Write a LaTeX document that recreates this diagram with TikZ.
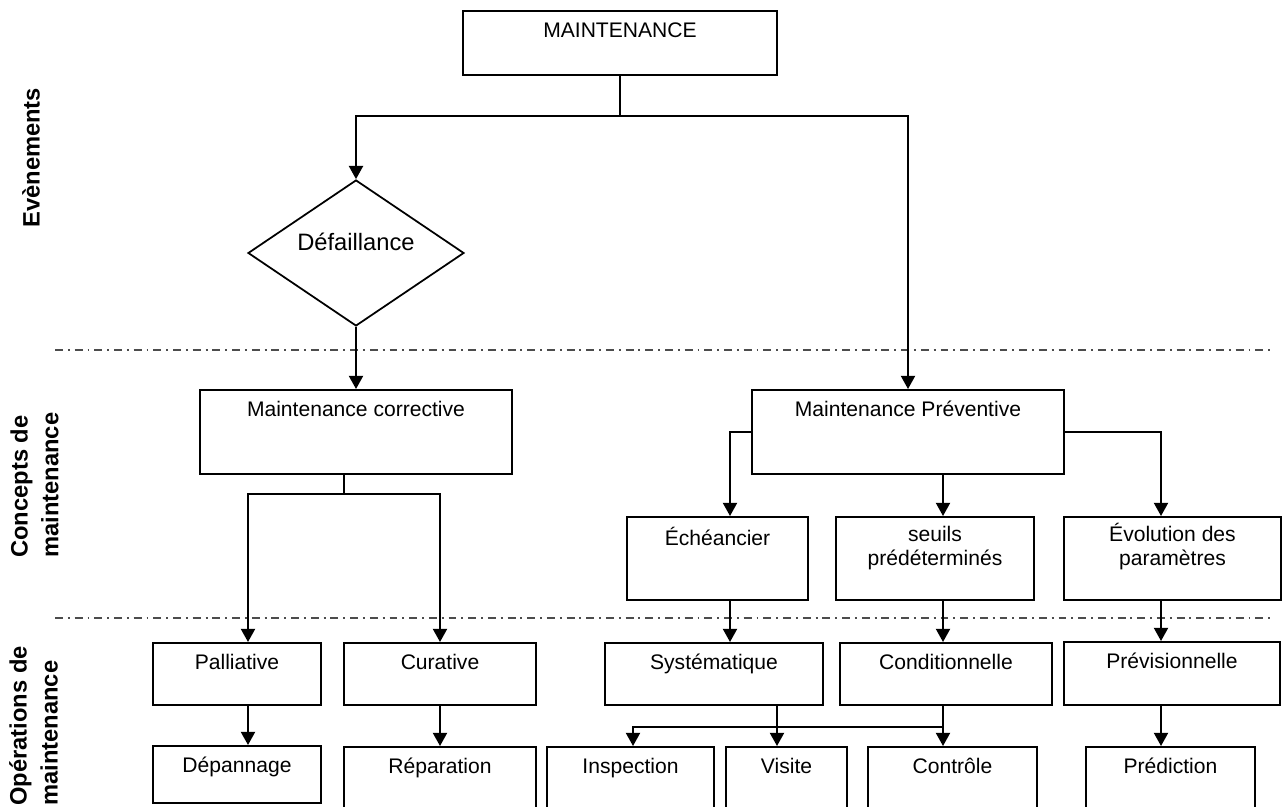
\documentclass[tikz,border=0pt]{standalone}
\usepackage{fontspec}
\setmainfont{Liberation Sans}
\usetikzlibrary{arrows.meta}
\usetikzlibrary{shapes.geometric}

\begin{document}
\begin{tikzpicture}[x=0.02cm, y=-0.02cm,
  boite/.style={draw, line width=0.04cm, inner sep=0pt},
  txt/.style={font=\fontsize{12}{13.5}\selectfont, align=center, anchor=north, inner sep=0pt, yshift=-5.9pt},
  fleche/.style={line width=0.04cm, -{Triangle[length=7.5pt, width=8pt]}},
  trait/.style={line width=0.04cm},
  limite/.style={black!70, line width=0.04cm, dash pattern=on 4.5pt off 2.8pt on 1.1pt off 2.8pt},
  titre/.style={font=\fontsize{13.5}{17.6}\selectfont\bfseries, rotate=90, anchor=north west, align=left, inner sep=0pt}]
\useasboundingbox (0,0) rectangle (1285,807);
\clip (0,0) rectangle (1285,807);

\draw[limite] (55,350) -- (1275,350);
\draw[limite] (55,618) -- (1275,618);

\node[titre] (evt) at (22,228) {Evènements};
\node[titre] (cpt) at (10,558) {Concepts de\\maintenance};
\node[titre] (ops) at (9,806) {Opérations de\\maintenance};

\node[boite, minimum width=6.28cm, minimum height=1.28cm, label={[txt]north:{\strut MAINTENANCE}}] (maint) at (620,43) {};
\node[draw, diamond, line width=1pt, inner sep=0pt, minimum width=4.32cm, minimum height=2.92cm] (def) at (356,253) {};
\node[font=\fontsize{13.5}{16}\selectfont, inner sep=0pt] (tdef) at (356,242) {Défaillance};

\node[boite, minimum width=6.24cm, minimum height=1.68cm, label={[txt]north:{\strut Maintenance corrective}}] (corr) at (356,432) {};
\node[boite, minimum width=6.24cm, minimum height=1.68cm, label={[txt]north:{\strut Maintenance Préventive}}] (prev) at (908,432) {};

\node[boite, minimum width=3.62cm, minimum height=1.66cm, label={[txt]north:{\strut Échéancier}}] (eche) at (717.5,558.5) {};
\node[boite, minimum width=3.96cm, minimum height=1.66cm, label={[txt, yshift=1pt]north:{\strut seuils\\prédéterminés}}] (seuils) at (935,558.5) {};
\node[boite, minimum width=4.34cm, minimum height=1.66cm, label={[txt, yshift=2pt]north:{\strut Évolution des\\paramètres}}] (evol) at (1172.5,558.5) {};

\node[boite, minimum width=3.36cm, minimum height=1.24cm, label={[txt]north:{\strut Palliative}}] (pall) at (237,674) {};
\node[boite, minimum width=3.86cm, minimum height=1.24cm, label={[txt]north:{\strut Curative}}] (cura) at (440,674) {};
\node[boite, minimum width=4.36cm, minimum height=1.24cm, label={[txt]north:{\strut Systématique}}] (syst) at (714,674) {};
\node[boite, minimum width=4.24cm, minimum height=1.24cm, label={[txt]north:{\strut Conditionnelle}}] (cond) at (946,674) {};
\node[boite, minimum width=4.32cm, minimum height=1.26cm, label={[txt]north:{\strut Prévisionnelle}}] (prevs) at (1172,673.5) {};

\node[boite, minimum width=3.36cm, minimum height=1.14cm, label={[txt]north:{\strut Dépannage}}] (depa) at (237,774.5) {};
\node[boite, minimum width=3.86cm, minimum height=1.72cm, label={[txt]north:{\strut Réparation}}] (repa) at (440,790) {};
\node[boite, minimum width=3.34cm, minimum height=1.72cm, label={[txt]north:{\strut Inspection}}] (insp) at (630.5,790) {};
\node[boite, minimum width=2.42cm, minimum height=1.72cm, label={[txt]north:{\strut Visite}}] (visi) at (786.5,790) {};
\node[boite, minimum width=3.38cm, minimum height=1.72cm, label={[txt]north:{\strut Contrôle}}] (ctrl) at (952.5,790) {};
\node[boite, minimum width=3.38cm, minimum height=1.72cm, label={[txt]north:{\strut Prédiction}}] (pred) at (1170.5,790) {};

\coordinate (hub) at (620,116);
\coordinate (cbr) at (344,494);
\coordinate (jn) at (943,727);
\coordinate (kA) at (248,0);
\coordinate (kC) at (730,0);
\coordinate (kD) at (777,0);
\coordinate (kF) at (943,0);
\coordinate (kG) at (1161,0);
\coordinate (kI) at (633,0);

\draw[trait] (maint.south) -- (hub);
\draw[fleche] (hub) -| (def.north);
\draw[fleche] (hub) -| (prev.north);
\draw[fleche] (def.south) -- (corr.north);

\draw[trait] (corr.south -| cbr) -- (cbr);
\draw[fleche] (cbr) -| (pall.north -| kA);
\draw[fleche] (cbr) -| (cura.north);
\draw[fleche] (pall.south -| kA) -- (depa.north -| kA);
\draw[fleche] (cura.south) -- (repa.north);

\draw[fleche] (prev.west) -| (eche.north -| kC);
\draw[fleche] (prev.south -| kF) -- (seuils.north -| kF);
\draw[fleche] (prev.east) -| (evol.north -| kG);
\draw[fleche] (eche.south -| kC) -- (syst.north -| kC);
\draw[fleche] (seuils.south -| kF) -- (cond.north -| kF);
\draw[fleche] (evol.south -| kG) -- (prevs.north -| kG);

\draw[fleche] (syst.south -| kD) -- (visi.north -| kD);
\draw[fleche] (cond.south -| kF) -- (ctrl.north -| kF);
\draw[fleche] (jn) -| (insp.north -| kI);
\draw[fleche] (prevs.south -| kG) -- (pred.north -| kG);
\end{tikzpicture}
\end{document}
